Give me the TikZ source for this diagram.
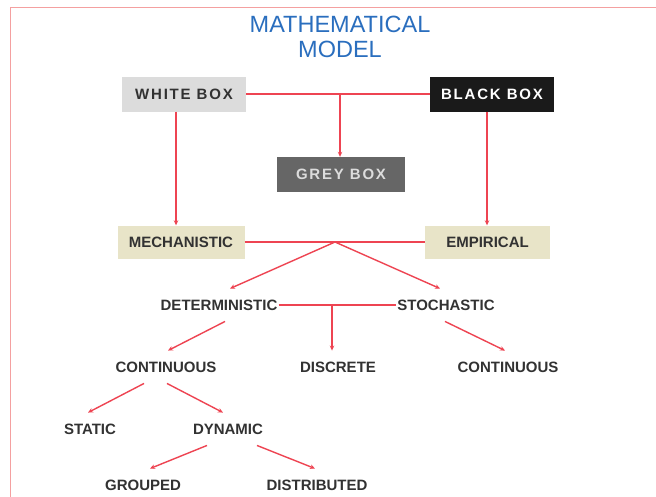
\documentclass[tikz,border=0pt]{standalone}
\usepackage{fontspec}
\setmainfont{Liberation Sans}
\newfontfamily\spaced[LetterSpace=12]{Liberation Sans}
\usetikzlibrary{arrows.meta}
\definecolor{conn}{RGB}{238,68,82}
\definecolor{framecol}{RGB}{244,160,160}
\definecolor{titleblue}{RGB}{42,110,190}
\definecolor{txt}{RGB}{50,50,50}
\definecolor{beige}{RGB}{232,228,200}
\definecolor{lightgrey}{RGB}{220,220,220}
\definecolor{darkbox}{RGB}{26,26,26}
\definecolor{midgrey}{RGB}{102,102,102}
\tikzset{
  link/.style={draw=conn, line width=1.4pt},
  arr/.style={link, -{Stealth[length=5pt,width=4.5pt]}},
  boxnode/.style={minimum width=124pt, minimum height=35pt, inner sep=0pt, font=\spaced\bfseries\fontsize{15}{17}\selectfont},
  catnode/.style={minimum width=127pt, minimum height=33pt, inner sep=0pt, fill=beige, text=txt, font=\bfseries\fontsize{15}{17}\selectfont},
  lbl/.style={inner xsep=1pt, inner ysep=11pt, text height=10.5pt, text depth=0pt, text=txt, font=\bfseries\fontsize{15}{17}\selectfont},
}
\begin{document}
\begin{tikzpicture}[x=1pt,y=-1pt]
\useasboundingbox (0,0) rectangle (656,496);
\fill[white] (0,0) rectangle (656,496);
\draw[framecol, line width=1pt] (10,520) -- (10,7) -- (680,7);
\node[align=center, text=titleblue, font=\fontsize{23.5}{25}\selectfont] (title) at (340,37) {MATHEMATICAL\\MODEL};
\node[boxnode, fill=lightgrey, text=txt] (white) at (184,94) {WHITE BOX};
\node[boxnode, fill=darkbox, text=white] (black) at (492,94) {BLACK BOX};
\node[boxnode, minimum width=128pt, fill=midgrey, text=lightgrey] (grey) at (341,174.5) {GREY BOX};
\node[catnode] (mech) at (181,242) {MECHANISTIC};
\node[catnode, minimum width=125pt] (emp) at (487.5,242) {EMPIRICAL};
\node[lbl] (det) at (219,305) {DETERMINISTIC};
\node[lbl] (sto) at (446,305) {STOCHASTIC};
\node[lbl] (cont1) at (166,367) {CONTINUOUS};
\node[lbl] (disc) at (338,367) {DISCRETE};
\node[lbl] (cont2) at (508,367) {CONTINUOUS};
\node[lbl] (static) at (90,429) {STATIC};
\node[lbl] (dyn) at (228,429) {DYNAMIC};
\node[lbl] (grouped) at (143,485) {GROUPED};
\node[lbl] (distrib) at (317,485) {DISTRIBUTED};
% connectors
\draw[link] (white.east) -- (black.west);
\coordinate (j1) at (340,94);
\draw[arr] (j1) -- (j1 |- grey.north);
\draw[arr] ([xshift=-8pt]white.south) -- ([xshift=-8pt]white.south |- mech.north);
\draw[arr] ([xshift=-5pt]black.south) -- ([xshift=-5pt]black.south |- emp.north);
\draw[link] (mech.east) -- (emp.west);
\coordinate (j2) at (335,242);
\draw[arr] (j2) -- ([xshift=11pt]det.north);
\draw[arr] (j2) -- ([xshift=-6pt]sto.north);
\draw[link] (det.east) -- (sto.west);
\coordinate (j3) at (332,305);
\draw[arr] (j3) -- (j3 |- disc.north);
\draw[arr] ([xshift=6pt]det.south) -- ([xshift=2pt]cont1.north);
\draw[arr] ([xshift=-1pt]sto.south) -- ([xshift=-3pt]cont2.north);
\draw[arr] ([xshift=-22pt]cont1.south) -- ([xshift=-2pt]static.north);
\draw[arr] ([xshift=1pt]cont1.south) -- ([xshift=-5pt]dyn.north);
\draw[arr] ([xshift=-21pt]dyn.south) -- ([xshift=7pt]grouped.north);
\draw[arr] ([xshift=29pt]dyn.south) -- ([xshift=-2pt]distrib.north);
\end{tikzpicture}
\end{document}
